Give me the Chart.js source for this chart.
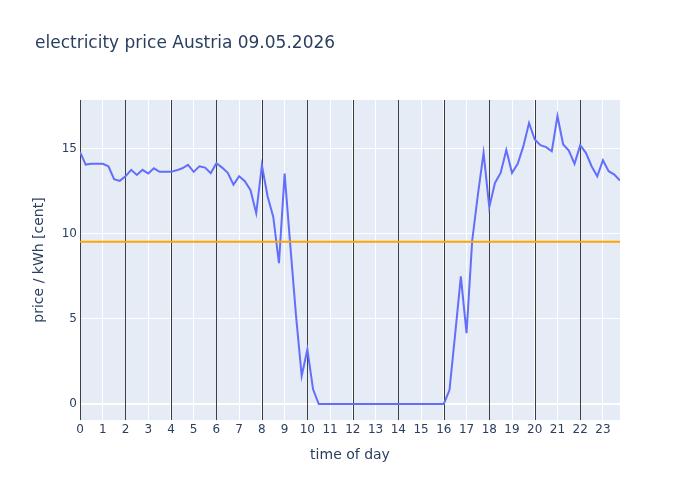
<!DOCTYPE html>
<html>
<head>
<meta charset="utf-8">
<script src="https://cdn.jsdelivr.net/npm/chart.js@4"></script>
<style>
  html, body { margin: 0; padding: 0; background: #fff; }
  #wrap { width: 700px; height: 500px; }
</style>
</head>
<body>
<div id="wrap"><canvas id="price"></canvas></div>
<script>
// quarter-hour prices in cent / kWh, one row per hour
const prices = [
    14.8, 14.06, 14.1, 14.1,
    14.1, 13.96, 13.2, 13.1,
    13.37, 13.75, 13.45, 13.75,
    13.53, 13.84, 13.63, 13.63,
    13.63, 13.72, 13.84, 14.04,
    13.63, 13.96, 13.88, 13.55,
    14.14, 13.88, 13.57, 12.88,
    13.37, 13.08, 12.55, 11.2,
    14.02, 12.2, 10.98, 8.27,
    13.53, 9.3, 5.2, 1.65,
    3.2, 0.86, 0, 0,
    0, 0, 0, 0,
    0, 0, 0, 0,
    0, 0, 0, 0,
    0, 0, 0, 0,
    0, 0, 0, 0,
    0, 0.82, 4.1, 7.49,
    4.16, 9.6, 12.3, 14.75,
    11.55, 12.98, 13.57, 14.92,
    13.57, 14.1, 15.14, 16.5,
    15.53, 15.2, 15.08, 14.84,
    16.9, 15.24, 14.88, 14.1,
    15.2, 14.75, 13.96, 13.37,
    14.31, 13.67, 13.47, 13.12
];
const times = prices.map((p, i) => i * 0.25); // 0:00 .. 23:45
const averagePrice = 9.52;
const markerHours = [0, 2, 4, 6, 8, 10, 12, 14, 16, 18, 20, 22];
const yTicks = [0, 5, 10, 15];

const textColor = '#2a3f5f';
const fontFamily = '"DejaVu Sans", verdana, arial, sans-serif';

const priceData = times.map((t, i) => ({ x: t, y: prices[i] }));
const avgData = [
    { x: times[0], y: averagePrice },
    { x: times[times.length - 1], y: averagePrice }
];

// plot background + vertical hour markers
const backdrop = {
    id: 'backdrop',
    beforeDraw(chart) {
        const { ctx, chartArea: a } = chart;
        ctx.save();
        ctx.fillStyle = '#E5ECF6';
        ctx.fillRect(a.left, a.top, a.right - a.left, a.bottom - a.top);
        ctx.restore();
    },
    beforeDatasetsDraw(chart) {
        const { ctx, chartArea: a, scales } = chart;
        ctx.save();
        ctx.strokeStyle = 'rgba(0,0,0,0.75)';
        ctx.lineWidth = 1;
        markerHours.forEach(h => {
            const x = Math.round(scales.x.getPixelForValue(h)) + 0.5;
            ctx.beginPath();
            ctx.moveTo(x, a.top);
            ctx.lineTo(x, a.bottom);
            ctx.stroke();
        });
        ctx.restore();
    }
};

// title placed like plotly's (left aligned at x=35)
const titleText = {
    id: 'titleText',
    afterDraw(chart) {
        const { ctx } = chart;
        ctx.save();
        ctx.font = '17px ' + fontFamily;
        ctx.fillStyle = textColor;
        ctx.textBaseline = 'middle';
        ctx.textAlign = 'left';
        ctx.fillText('electricity price Austria 09.05.2026', 35, 44);
        ctx.restore();
    }
};

new Chart(document.getElementById('price'), {
    type: 'line',
    data: {
        datasets: [
            {
                label: 'average',
                data: avgData,
                borderColor: '#FFA500',
                borderWidth: 2,
                pointRadius: 0,
                tension: 0
            },
            {
                label: 'price',
                data: priceData,
                borderColor: '#636efa',
                borderWidth: 2,
                pointRadius: 0,
                tension: 0
            }
        ]
    },
    options: {
        responsive: true,
        maintainAspectRatio: false,
        animation: false,
        layout: { padding: { top: 100, right: 80, left: 0, bottom: 0 } },
        plugins: {
            legend: { display: false },
            tooltip: { enabled: false },
            title: { display: false }
        },
        scales: {
            x: {
                type: 'linear',
                min: 0,
                max: 23.75,
                afterFit: s => { s.height = 80; },
                border: { display: false },
                grid: { color: '#ffffff', lineWidth: 1, drawTicks: false },
                ticks: {
                    stepSize: 1,
                    includeBounds: false,
                    autoSkip: false,
                    maxRotation: 0,
                    padding: 3,
                    color: textColor,
                    font: { family: fontFamily, size: 12 }
                },
                title: {
                    display: true,
                    text: 'time of day',
                    color: textColor,
                    font: { family: fontFamily, size: 14 },
                    padding: { top: 0, bottom: 36 }
                }
            },
            y: {
                min: -0.94,
                max: 17.85,
                afterFit: s => { s.width = 80; },
                afterBuildTicks: s => { s.ticks = yTicks.map(v => ({ value: v })); },
                border: { display: false },
                grid: {
                    color: '#ffffff',
                    lineWidth: ctx => (ctx.tick && ctx.tick.value === 0 ? 2 : 1),
                    drawTicks: false
                },
                ticks: {
                    padding: 3,
                    color: textColor,
                    font: { family: fontFamily, size: 12 }
                },
                title: {
                    display: true,
                    text: 'price / kWh [cent]',
                    color: textColor,
                    font: { family: fontFamily, size: 14 },
                    padding: { top: 31, bottom: 0 }
                }
            }
        }
    },
    plugins: [backdrop, titleText]
});
</script>
</body>
</html>
